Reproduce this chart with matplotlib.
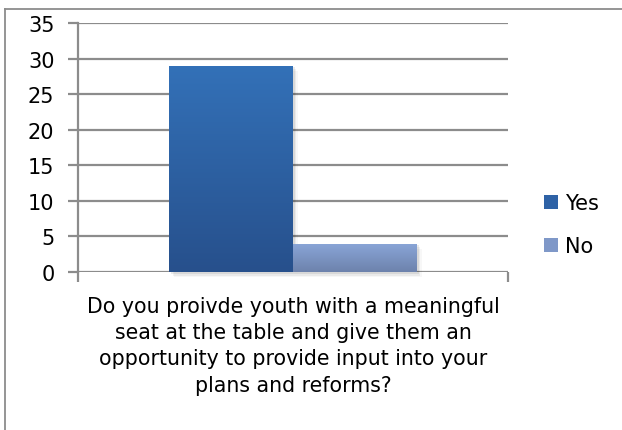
import matplotlib
matplotlib.use("Agg")
import matplotlib.pyplot as plt
import numpy as np
from matplotlib.colors import LinearSegmentedColormap
from matplotlib.lines import Line2D
from matplotlib.patches import Rectangle

plt.rcParams['font.family'] = ['DejaVu Sans']

question = ("Do you proivde youth with a meaningful\n"
            "seat at the table and give them an\n"
            "opportunity to provide input into your\n"
            "plans and reforms?")
series = ["Yes", "No"]
values = [29, 4]
y_ticks = [0, 5, 10, 15, 20, 25, 30, 35]

# gradient colours per series (top, bottom)
grads = {"Yes": ("#3371B8", "#27508C"), "No": ("#8AA6D8", "#6D82AC")}
legend_colors = {"Yes": "#2E62A6", "No": "#7F98C8"}

W, H = 622, 431
fig = plt.figure(figsize=(W / 100, H / 100), dpi=100)
fig.patch.set_facecolor("white")
ax = fig.add_axes([78 / W, 1 - 273 / H, (508 - 78) / W, (273 - 24) / H])

grid_c = "#8C8C8C"
ax.set_xlim(-0.5, 0.5)
ax.set_ylim(0, 35)
ax.set_yticks(y_ticks)
ax.set_yticklabels([str(t) for t in y_ticks], fontsize=15)
ax.yaxis.grid(True, color=grid_c, linewidth=1.6)
ax.set_axisbelow(True)
for s in ["top", "right", "bottom"]:
    ax.spines[s].set_visible(False)
ax.spines["left"].set_color(grid_c)
ax.spines["left"].set_linewidth(1.6)
ax.tick_params(axis="y", length=7, width=1.6, color=grid_c, pad=10)

ax.set_xticks([0])
ax.set_xticklabels([question], fontsize=14.8, linespacing=1.4)
ax.set_xticks([-0.5, 0.5], minor=True)
ax.tick_params(axis="x", which="major", length=0, pad=17)
ax.tick_params(axis="x", which="minor", length=7, width=1.6, color=grid_c)

width = 0.288
offsets = [-width / 2, width / 2]
for name, v, off in zip(series, values, offsets):
    x0 = off - width / 2
    # soft shadow
    for k, a in enumerate([0.08, 0.05, 0.03]):
        d = 0.004 * (k + 1)
        ax.add_patch(Rectangle((x0 + d, -0.25 * (k + 1)), width, v,
                               facecolor="black", alpha=a, edgecolor="none",
                               zorder=2, clip_on=False))
    bar = ax.bar(off, v, width=width, color=legend_colors[name],
                 edgecolor="none", zorder=3, label=name)[0]
    top, bot = grads[name]
    cmap = LinearSegmentedColormap.from_list(name, [bot, top])
    img = ax.imshow(np.linspace(0, 1, 256).reshape(-1, 1), cmap=cmap,
                    extent=[x0, x0 + width, 0, v], origin="lower",
                    aspect="auto", zorder=4)
    img.set_clip_path(bar)

ax.set_xlim(-0.5, 0.5)
ax.set_ylim(0, 35)

leg = ax.legend(loc="center left", bbox_to_anchor=(1.084, 0.19),
                frameon=False, fontsize=15, handlelength=0.67,
                handleheight=0.67, handletextpad=0.34, labelspacing=1.12,
                borderpad=0, borderaxespad=0)

# chart border (left and top edges)
fig.add_artist(Line2D([4.5 / W, 4.5 / W], [0, 1 - 10 / H],
                      transform=fig.transFigure, color="#8C8C8C", lw=1.3))
fig.add_artist(Line2D([4.5 / W, 1], [1 - 10 / H, 1 - 10 / H],
                      transform=fig.transFigure, color="#8C8C8C", lw=1.3))

fig.savefig("out.png", dpi=100, facecolor="white")
